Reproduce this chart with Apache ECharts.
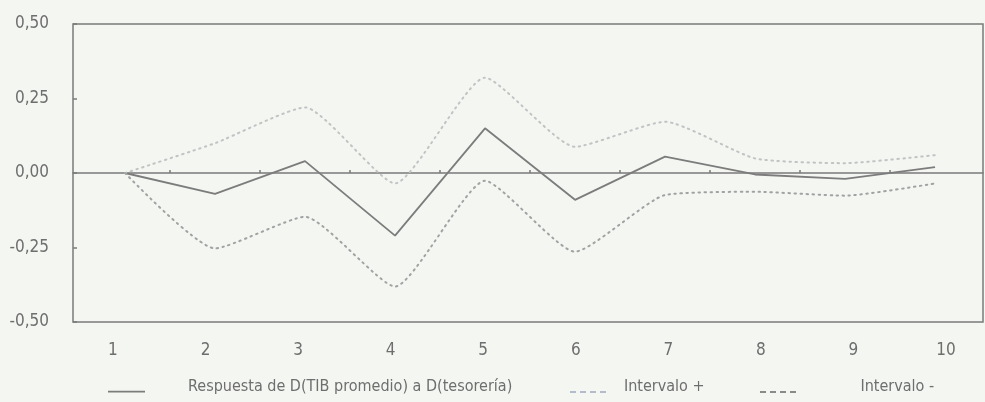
<!DOCTYPE html>
<html>
<head>
<meta charset="utf-8">
<script src="https://cdn.jsdelivr.net/npm/echarts@6/dist/echarts.min.js"></script>
<style>
  html, body { margin: 0; padding: 0; background: #f3f6f1; }
  #chart { width: 985px; height: 402px; }
</style>
</head>
<body>
<div id="chart"></div>
<script>
// Impulse-response horizons
const periods = [1, 2, 3, 4, 5, 6, 7, 8, 9, 10];
// Response of D(TIB promedio) to a shock in D(tesorería)
const respuesta = [0, -0.07, 0.04, -0.21, 0.15, -0.09, 0.055, -0.005, -0.02, 0.02];
// Upper and lower confidence bands
const intervaloMas = [0, 0.10, 0.22, -0.035, 0.32, 0.088, 0.172, 0.049, 0.033, 0.06];
const intervaloMenos = [0, -0.253, -0.147, -0.381, -0.026, -0.264, -0.074, -0.063, -0.076, -0.035];
// Axis ticks
const halfSteps = [1.5, 2.5, 3.5, 4.5, 5.5, 6.5, 7.5, 8.5, 9.5];

const FONT = '"DejaVu Sans Condensed", "Liberation Sans", sans-serif';
const TXT = '#6e6e6e';

// legend glyphs sitting on the text baseline: a plain stroke and a dashed stroke
const ICON_SOLID = 'path://M0,0L0.01,0L0,0.01ZM0,10H40V12H0Z';
const ICON_DASH = 'path://M0,0L0.01,0L0,0.01ZM0,10H6V12H0ZM10,10H16V12H10ZM20,10H26V12H20ZM30,10H36V12H30Z';

const pairs = arr => periods.map((p, i) => [p, arr[i]]);

const chart = echarts.init(document.getElementById('chart'), null, { renderer: 'canvas' });

const legendText = pad => ({ color: TXT, fontFamily: FONT, fontSize: 16, padding: [0, 0, 0, pad] });

chart.setOption({
  backgroundColor: '#f3f6f1',
  animation: false,
  grid: {
    left: 73, right: 2, top: 24, bottom: 80,
    show: true, borderColor: '#7a7a7a', borderWidth: 1.5, backgroundColor: 'transparent'
  },
  xAxis: [
    {
      // period labels along the bottom
      type: 'value', position: 'bottom', min: 0.568, max: 10.4,
      axisLine: { show: false, onZero: false },
      axisTick: { show: false },
      splitLine: { show: false },
      axisLabel: {
        customValues: periods, margin: 20,
        color: TXT, fontFamily: FONT, fontSize: 17
      }
    },
    {
      // data axis; its line is the zero reference with half-step ticks
      type: 'value', min: 0.422, max: 10.533,
      axisLine: { show: true, onZero: true, lineStyle: { color: '#7a7a7a', width: 1.5 } },
      axisTick: { show: true, customValues: halfSteps, inside: false, length: 3, lineStyle: { color: '#7a7a7a', width: 1.5 } },
      splitLine: { show: false },
      axisLabel: { show: false }
    }
  ],
  yAxis: {
    type: 'value', min: -0.5, max: 0.5, interval: 0.25,
    axisLine: { show: false, onZero: false },
    axisTick: { show: true, inside: true, length: 4, lineStyle: { color: '#7a7a7a', width: 1.5 } },
    splitLine: { show: false },
    axisLabel: {
      margin: 24, color: TXT, fontFamily: FONT, fontSize: 17,
      formatter: v => v.toFixed(2).replace('.', ',')
    }
  },
  legend: [
    {
      left: 103, top: 374, itemWidth: 37, itemHeight: 12,
      textStyle: legendText(38),
      data: [{ name: 'Respuesta de D(TIB promedio) a D(tesorería)', icon: ICON_SOLID, itemStyle: { color: '#7c7c7c' } }]
    },
    {
      left: 565, top: 374, itemWidth: 36, itemHeight: 12,
      textStyle: legendText(13),
      data: [{ name: 'Intervalo +', icon: ICON_DASH, itemStyle: { color: '#b4bccb' } }]
    },
    {
      left: 755, top: 374, itemWidth: 37, itemHeight: 12,
      textStyle: legendText(59),
      data: [{ name: 'Intervalo -', icon: ICON_DASH, itemStyle: { color: '#8a8a8a' } }]
    }
  ],
  series: [
    {
      name: 'Respuesta de D(TIB promedio) a D(tesorería)',
      type: 'line', xAxisIndex: 1, symbol: 'none',
      lineStyle: { color: '#7c7c7c', width: 1.8 },
      itemStyle: { color: '#7c7c7c' },
      data: pairs(respuesta)
    },
    {
      name: 'Intervalo +',
      type: 'line', xAxisIndex: 1, symbol: 'none', smooth: 0.18,
      lineStyle: { color: '#c0c4c4', width: 2, type: [1.5, 4.5], cap: 'round' },
      itemStyle: { color: '#c0c4c4' },
      data: pairs(intervaloMas)
    },
    {
      name: 'Intervalo -',
      type: 'line', xAxisIndex: 1, symbol: 'none', smooth: 0.18,
      lineStyle: { color: '#a0a3a3', width: 2, type: [1.5, 4.5], cap: 'round' },
      itemStyle: { color: '#a0a3a3' },
      data: pairs(intervaloMenos)
    }
  ]
});
</script>
</body>
</html>
